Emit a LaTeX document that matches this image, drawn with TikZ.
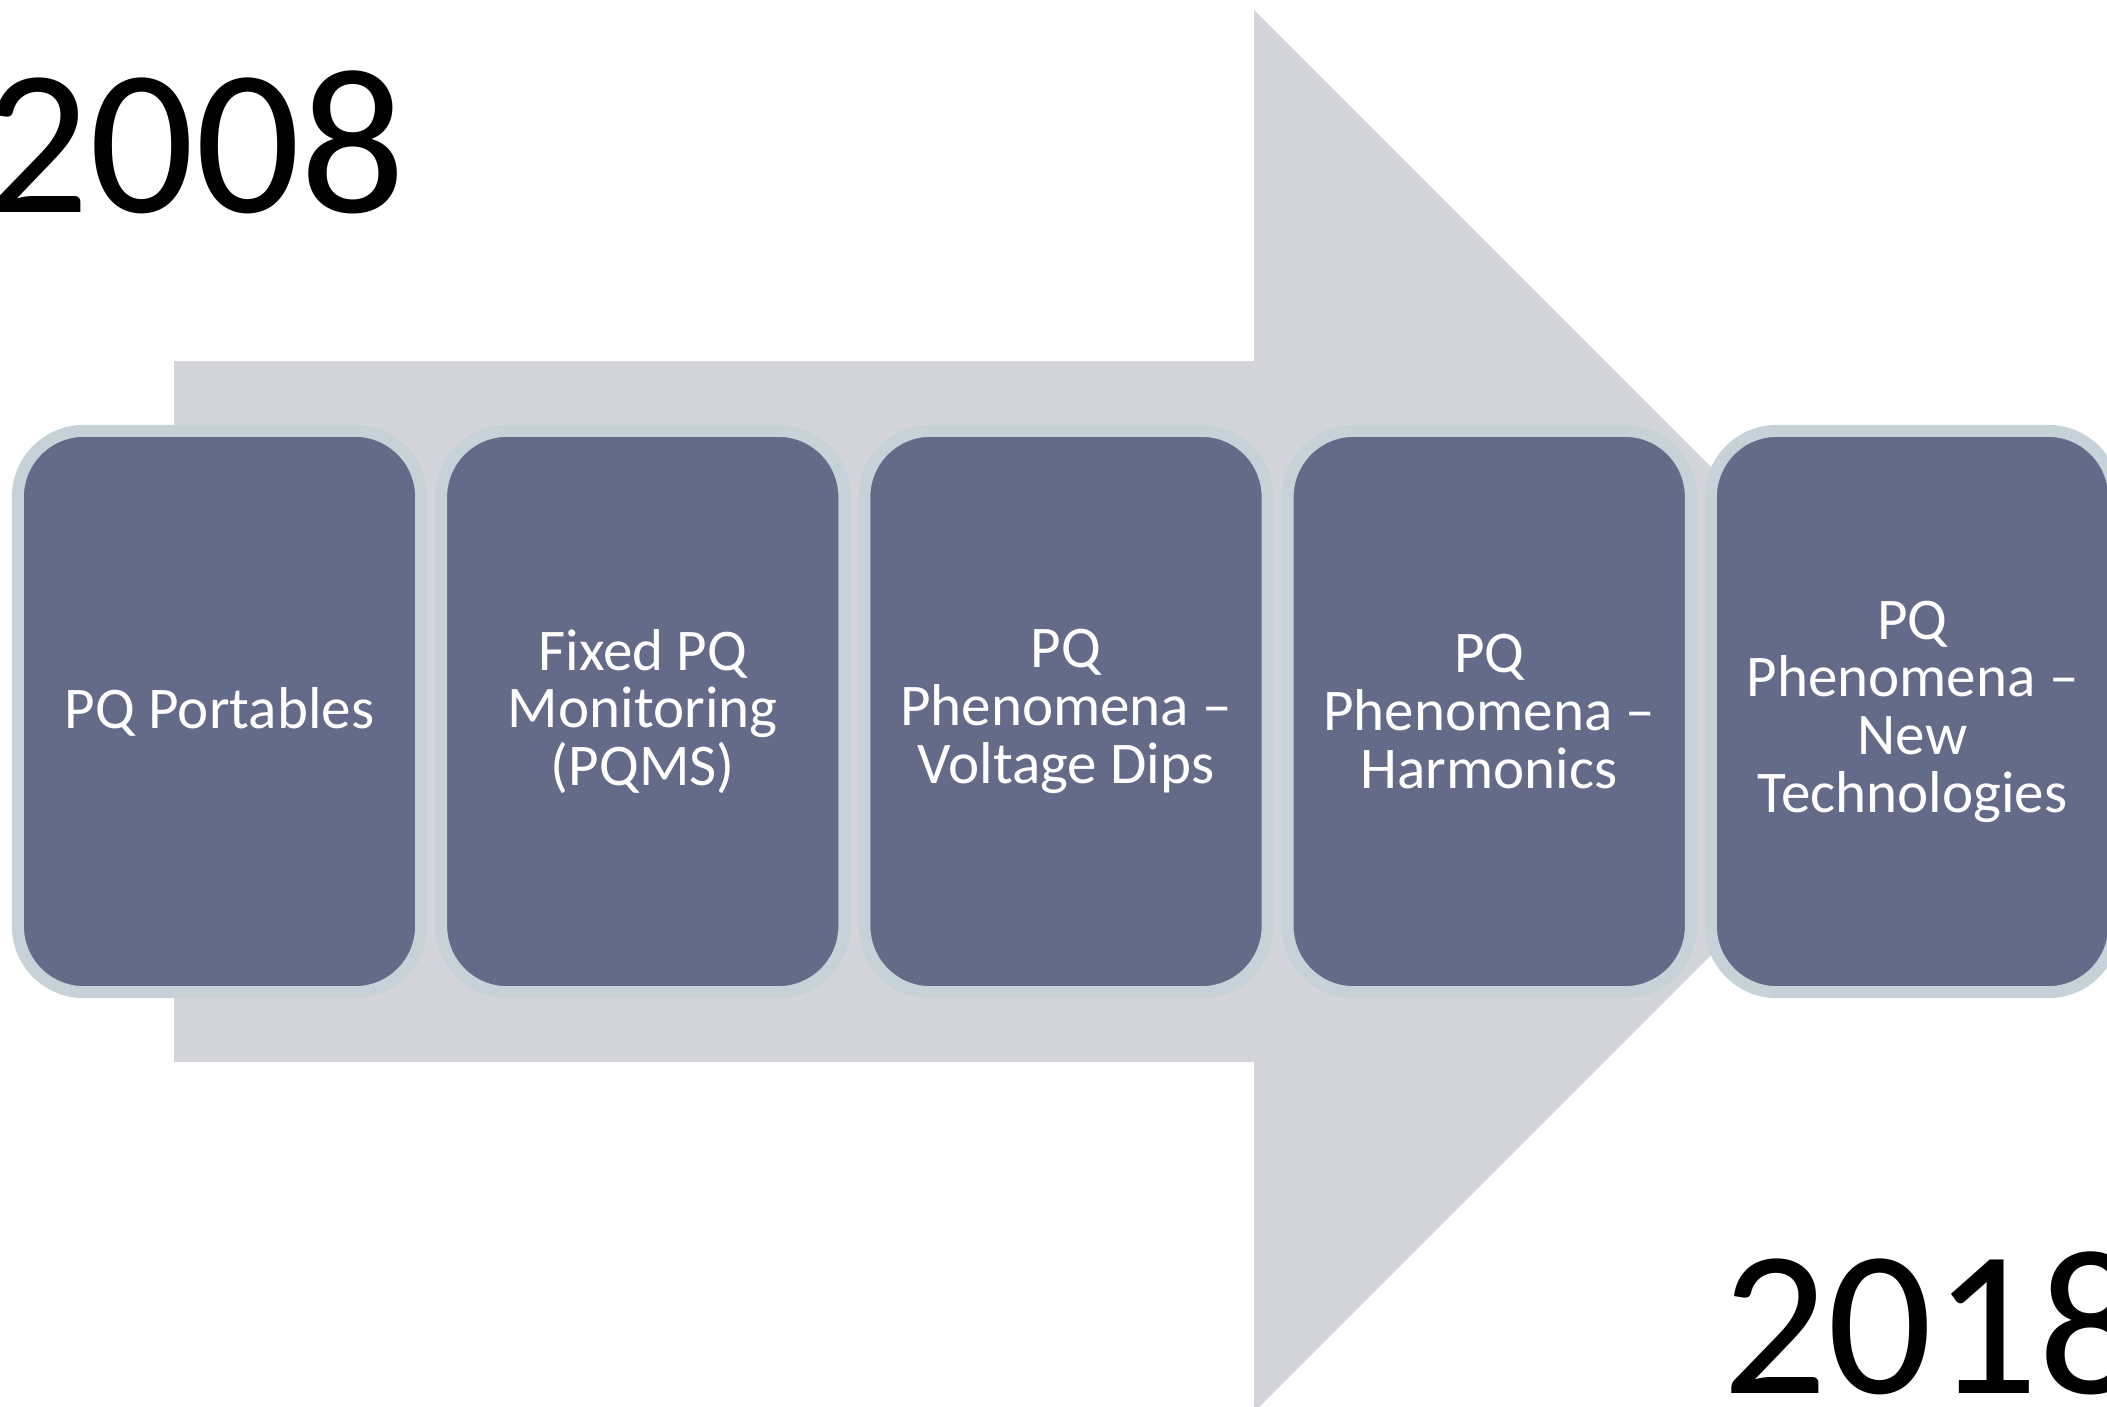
\documentclass[tikz,border=0pt]{standalone}
\usepackage{fontspec}
\setmainfont{Carlito}
\usetikzlibrary{positioning}

\definecolor{slate}{RGB}{100,107,136}
\definecolor{rim}{RGB}{198,209,216}
\definecolor{shaft}{RGB}{211,213,218}

\tikzset{
  stage/.style={draw=rim, fill=slate, line width=0.12cm, rounded corners=0.66cm,
    minimum width=4.03cm, minimum height=5.61cm, inner sep=0pt,
    text=white, align=center, font=\fontsize{16.8}{16.4}\selectfont},
  year/.style={anchor=base west, inner sep=0pt, font=\fontsize{59}{59}\selectfont}
}

\begin{document}
\begin{tikzpicture}[x=0.01cm, y=-0.01cm]
  \useasboundingbox (0,0) rectangle (2107,1406);
  \clip (0,0) rectangle (2107,1406);

  % big arrow behind the stages
  \fill[shaft] (174,361) -- (1254,361) -- (1254,10) -- (1955,711)
     -- (1254,1412) -- (1254,1062) -- (174,1062) -- cycle;

  % stages
  \node[stage] (portables) at (219.5,711.5) {PQ Portables};
  \node[stage, right=0.08cm of portables] (pqms) {Fixed PQ\\Monitoring\\(PQMS)};
  \node[stage, right=0.08cm of pqms] (dips) {PQ\\Phenomena --\\Voltage Dips};
  \node[stage, right=0.08cm of dips] (harmonics) {PQ\\Phenomena --\\Harmonics};
  \node[stage, right=0.08cm of harmonics] (newtech) {PQ\\Phenomena --\\New\\Technologies};

  % years
  \node[year] (start) at (-16,212) {2008};
  \node[year] (finish) at (1722,1393) {2018};
\end{tikzpicture}
\end{document}
